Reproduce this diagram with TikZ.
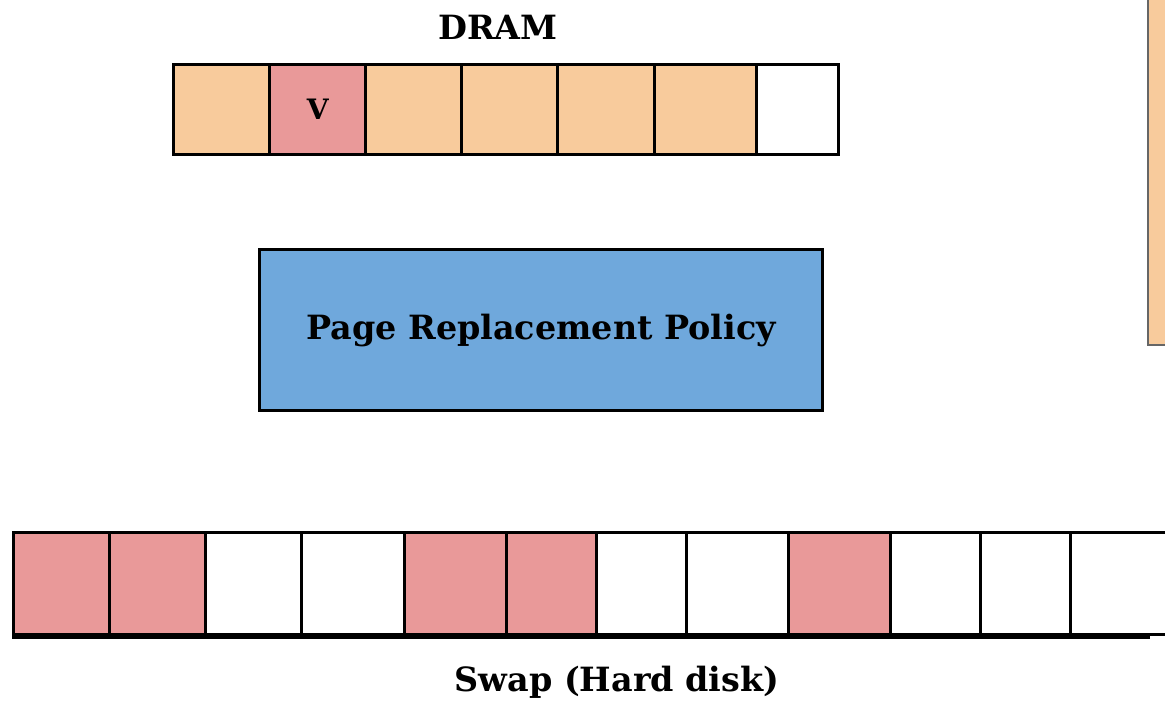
\documentclass[tikz,border=0pt]{standalone}
\usepackage{fontspec}
\setmainfont{DejaVu Serif}
\usepackage{xcolor}
\usetikzlibrary{positioning}
\definecolor{peach}{HTML}{F8CB9C}
\definecolor{rose}{HTML}{E99999}
\definecolor{sky}{HTML}{6FA8DC}
\tikzset{
  cell/.style={draw=black, line width=1.9pt, rectangle, inner sep=0pt, anchor=north west},
  lbl/.style={font=\bfseries\fontsize{19}{22}\selectfont}
}
\begin{document}
\begin{tikzpicture}[x=0.02cm, y=-0.02cm]
\useasboundingbox (0,0) rectangle (1165,703);
% orange block at the right edge
\draw [draw=black!60, line width=1.4pt, fill=peach] (1148,-10) rectangle (1180,345);
% DRAM
\node[lbl] (dram) at (498,27) {DRAM};
\foreach \l/\r/\c [count=\i] in {172/268/peach, 268/364/rose, 364/460/peach, 460/556/peach, 556/653/peach, 653/755/peach, 755/837/white}
  \node[cell, fill=\c, minimum width={(\r-\l)*0.02cm}, minimum height=1.8cm] (d\i) at (\l,63) {};
\node[font=\bfseries\fontsize{16}{18}\selectfont] (v) at (d2.center) {V};
% policy
\node[cell, fill=sky, minimum width=11.26cm, minimum height=3.22cm] (policy) at (258,248) {};
\node[lbl] (ptext) at (policy.center) {Page Replacement Policy};
% swap
\draw [line width=1.9pt] (12,637) -- (1150,637);
\foreach \l/\r/\c [count=\i] in {12/108/rose, 108/204/rose, 204/300/white, 300/403/white, 403/505/rose, 505/595/rose, 595/685/white, 685/787/white, 787/889/rose, 889/979/white, 979/1069/white, 1069/1175/white}
  \node[cell, fill=\c, minimum width={(\r-\l)*0.02cm}, minimum height=2.04cm] (s\i) at (\l,531) {};
\node[lbl] (swap) at (617,682) {Swap (Hard disk)};
\end{tikzpicture}
\end{document}
